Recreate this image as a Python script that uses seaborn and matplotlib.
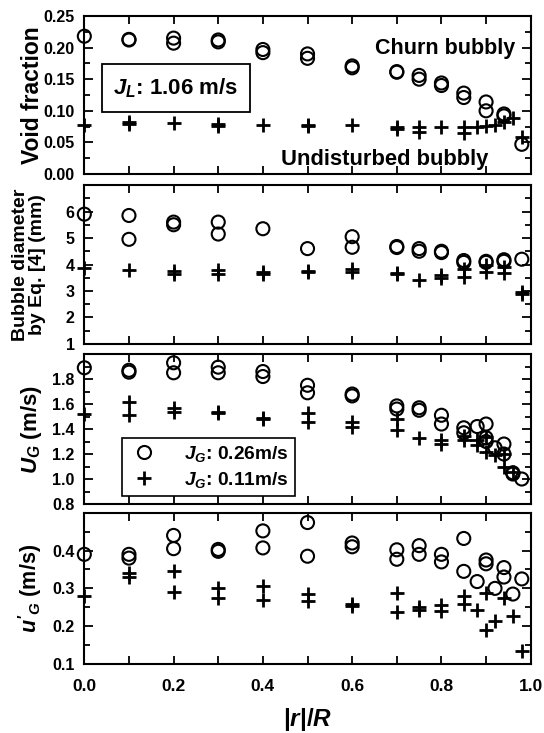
import numpy as np
import pandas as pd
import matplotlib
matplotlib.use("Agg")
import matplotlib.pyplot as plt
import seaborn as sns
from matplotlib.lines import Line2D
from matplotlib.patches import Rectangle
from matplotlib.ticker import MultipleLocator, FormatStrFormatter

# ---- radial profiles, J_L = 1.06 m/s ----
# void fraction
r_void_hi = [0, 0.1, 0.1, 0.2, 0.2, 0.3, 0.3, 0.4, 0.4, 0.5, 0.5, 0.6, 0.6, 0.7, 0.7,
             0.75, 0.75, 0.8, 0.8, 0.85, 0.85, 0.9, 0.9, 0.94, 0.94, 0.98]
void_hi = [0.218, 0.213, 0.212, 0.215, 0.207, 0.212, 0.209, 0.197, 0.192, 0.190, 0.183,
           0.171, 0.168, 0.162, 0.161, 0.156, 0.150, 0.144, 0.140, 0.128, 0.121,
           0.114, 0.100, 0.095, 0.092, 0.047]
r_void_lo = [0, 0.1, 0.1, 0.2, 0.3, 0.3, 0.4, 0.5, 0.5, 0.6, 0.7, 0.7, 0.75, 0.75, 0.8,
             0.85, 0.85, 0.88, 0.9, 0.92, 0.94, 0.96, 0.98]
void_lo = [0.078, 0.083, 0.079, 0.080, 0.079, 0.076, 0.078, 0.078, 0.076, 0.078, 0.075,
           0.072, 0.075, 0.067, 0.075, 0.074, 0.065, 0.075, 0.076, 0.077, 0.083, 0.088,
           0.058]

# bubble diameter (mm)
r_db_hi = [0, 0.1, 0.1, 0.2, 0.2, 0.3, 0.3, 0.4, 0.5, 0.6, 0.6, 0.7, 0.7, 0.75, 0.75,
           0.8, 0.8, 0.85, 0.85, 0.9, 0.9, 0.94, 0.94, 0.98]
db_hi = [5.9, 5.85, 4.95, 5.6, 5.5, 5.6, 5.15, 5.35, 4.6, 5.05, 4.65, 4.68, 4.64, 4.6,
         4.5, 4.5, 4.45, 4.15, 4.08, 4.12, 4.08, 4.18, 4.12, 4.2]
r_db_lo = [0, 0.1, 0.2, 0.2, 0.3, 0.3, 0.4, 0.4, 0.5, 0.5, 0.6, 0.6, 0.7, 0.7, 0.75,
           0.8, 0.8, 0.85, 0.85, 0.9, 0.9, 0.94, 0.94, 0.98, 0.98]
db_lo = [3.85, 3.78, 3.75, 3.65, 3.78, 3.65, 3.72, 3.65, 3.75, 3.7, 3.82, 3.72, 3.68,
         3.65, 3.42, 3.62, 3.48, 3.82, 3.52, 3.98, 3.7, 3.9, 3.68, 2.95, 2.88]

# mean gas velocity U_G (m/s)
r_ug_hi = [0, 0.1, 0.1, 0.2, 0.2, 0.3, 0.3, 0.4, 0.4, 0.5, 0.5, 0.6, 0.6, 0.7, 0.7,
           0.75, 0.75, 0.8, 0.8, 0.85, 0.85, 0.88, 0.9, 0.9, 0.9, 0.92, 0.94, 0.94,
           0.96, 0.96, 0.98]
ug_hi = [1.89, 1.87, 1.855, 1.93, 1.85, 1.895, 1.85, 1.86, 1.82, 1.75, 1.69, 1.68,
         1.665, 1.585, 1.56, 1.57, 1.55, 1.51, 1.44, 1.41, 1.37, 1.42, 1.44, 1.33,
         1.30, 1.25, 1.28, 1.20, 1.05, 1.04, 1.00]
r_ug_lo = [0, 0.1, 0.1, 0.2, 0.2, 0.3, 0.3, 0.4, 0.4, 0.5, 0.5, 0.6, 0.6, 0.7, 0.7,
           0.75, 0.8, 0.8, 0.85, 0.85, 0.88, 0.88, 0.9, 0.9, 0.92, 0.94, 0.94, 0.96]
ug_lo = [1.52, 1.62, 1.51, 1.565, 1.54, 1.54, 1.53, 1.49, 1.48, 1.53, 1.46, 1.46, 1.42,
         1.48, 1.39, 1.33, 1.31, 1.28, 1.345, 1.31, 1.31, 1.27, 1.34, 1.22, 1.19, 1.2,
         1.1, 1.06]

# gas velocity fluctuation u'_G (m/s)
r_uf_hi = [0, 0.1, 0.1, 0.2, 0.2, 0.3, 0.3, 0.4, 0.4, 0.5, 0.5, 0.6, 0.6, 0.7, 0.7,
           0.75, 0.75, 0.8, 0.8, 0.85, 0.85, 0.88, 0.9, 0.9, 0.92, 0.94, 0.94, 0.96, 0.98]
uf_hi = [0.39, 0.39, 0.38, 0.44, 0.405, 0.403, 0.398, 0.452, 0.407, 0.474, 0.385, 0.42,
         0.41, 0.402, 0.377, 0.413, 0.39, 0.39, 0.37, 0.432, 0.345, 0.318, 0.375, 0.365,
         0.30, 0.355, 0.33, 0.285, 0.325]
r_uf_lo = [0, 0.1, 0.1, 0.2, 0.2, 0.3, 0.3, 0.4, 0.4, 0.5, 0.5, 0.6, 0.6, 0.7, 0.7,
           0.75, 0.75, 0.8, 0.8, 0.85, 0.85, 0.88, 0.9, 0.9, 0.92, 0.94, 0.96, 0.98]
uf_lo = [0.28, 0.34, 0.33, 0.345, 0.29, 0.30, 0.275, 0.305, 0.268, 0.286, 0.266, 0.258,
         0.253, 0.287, 0.238, 0.25, 0.243, 0.255, 0.24, 0.28, 0.258, 0.242, 0.287, 0.19,
         0.215, 0.275, 0.228, 0.135]

series_labels = [r"$J_G$: 0.26m/s", r"$J_G$: 0.11m/s"]
x_ticks = [0.0, 0.2, 0.4, 0.6, 0.8, 1.0]

sns.set_style("ticks")
plt.rcParams.update({
    "font.family": ["Liberation Sans", "DejaVu Sans"],
    "font.weight": "bold",
    "axes.labelweight": "bold",
    "mathtext.fontset": "custom",
    "mathtext.rm": "Liberation Sans:bold",
    "mathtext.it": "Liberation Sans:italic:bold",
    "mathtext.bf": "Liberation Sans:bold",
    "axes.linewidth": 1.5,
    "axes.edgecolor": "black",
    "xtick.color": "black",
    "ytick.color": "black",
    "text.color": "black",
    "axes.labelcolor": "black",
})

fig = plt.figure(figsize=(5.44, 7.33), dpi=100)
left, width = 0.155, 0.8206
ax1 = fig.add_axes([left, 0.7626, width, 0.2156])
ax2 = fig.add_axes([left, 0.5307, width, 0.2169])
ax3 = fig.add_axes([left, 0.3124, width, 0.2046])
ax4 = fig.add_axes([left, 0.0941, width, 0.2064])

panels = [
    (ax1, r_void_hi, void_hi, r_void_lo, void_lo, (0.0, 0.25), 0.05, 0.025, "%.2f"),
    (ax2, r_db_hi, db_hi, r_db_lo, db_lo, (1.0, 7.0), 1.0, 0.5, "%d"),
    (ax3, r_ug_hi, ug_hi, r_ug_lo, ug_lo, (0.8, 2.0), 0.2, 0.1, "%.1f"),
    (ax4, r_uf_hi, uf_hi, r_uf_lo, uf_lo, (0.1, 0.5), 0.1, 0.05, "%.1f"),
]

for ax, rh, vh, rl, vl, ylim, ymaj, ymin, fmt in panels:
    sns.scatterplot(x=rl, y=vl, ax=ax, marker="+", color="black", s=110,
                    linewidth=2.0, clip_on=False, zorder=3)
    sns.scatterplot(x=rh, y=vh, ax=ax, marker="o", color="black", facecolor="none",
                    edgecolor="black", s=88, linewidth=1.5, clip_on=False, zorder=4)
    ax.set_xlim(0, 1)
    ax.set_ylim(*ylim)
    ax.xaxis.set_major_locator(MultipleLocator(0.2))
    ax.xaxis.set_minor_locator(MultipleLocator(0.1))
    ticks = np.arange(ylim[0], ylim[1] - ymaj * 0.5, ymaj)
    if ax is ax1:
        ticks = np.arange(ylim[0], ylim[1] + ymaj * 0.5, ymaj)
    ax.set_yticks(ticks)
    ax.yaxis.set_minor_locator(MultipleLocator(ymin))
    ax.yaxis.set_major_formatter(FormatStrFormatter(fmt))
    ax.tick_params(which="both", direction="in", top=True, right=True, width=1.3)
    ax.tick_params(axis="x", which="both", length=6)
    ax.tick_params(axis="y", which="major", length=6.5, labelsize=11.5, pad=7)
    ax.tick_params(axis="y", which="minor", length=4)
    for s in ax.spines.values():
        s.set_linewidth(1.5)
    if ax is not ax4:
        ax.set_xticklabels([])
    ax.set_xlabel("")

ax4.set_xticks(x_ticks)
ax4.xaxis.set_major_formatter(FormatStrFormatter("%.1f"))
ax4.tick_params(axis="x", labelsize=12.5, pad=11)

ax1.set_ylabel("Void fraction", fontsize=16.5)
ax2.set_ylabel("Bubble diameter\nby Eq. [4] (mm)", fontsize=14, linespacing=1.05)
ax3.set_ylabel(r"$U_G$ (m/s)", fontsize=16)
ax4.set_ylabel(r"$u'_G$ (m/s)", fontsize=15.5)
ax4.set_xlabel(r"$|r|/R$", fontsize=17.5)
ax1.yaxis.set_label_coords(-0.09, 0.5)
ax2.yaxis.set_label_coords(-0.085, 0.5)
ax3.yaxis.set_label_coords(-0.09, 0.5)
ax4.yaxis.set_label_coords(-0.09, 0.5)
ax4.xaxis.set_label_coords(0.5, -0.275)

# annotations in the void fraction panel
ax1.text(0.808, 0.794, "Churn bubbly", transform=ax1.transAxes, fontsize=15.5,
         ha="center", va="center", fontweight="bold")
ax1.text(0.6725, 0.089, "Undisturbed bubbly", transform=ax1.transAxes, fontsize=15.8,
         ha="center", va="center", fontweight="bold")
ax1.add_patch(Rectangle((0.039, 0.392), 0.333, 0.304, transform=ax1.transAxes,
                        fill=False, edgecolor="black", linewidth=1.3, zorder=2))
ax1.text(0.205, 0.544, r"$J_L$: 1.06 m/s", transform=ax1.transAxes, fontsize=16,
         ha="center", va="center", fontweight="bold")

# legend in the U_G panel
handles = [
    Line2D([], [], marker="o", ls="none", mfc="none", mec="black", ms=9.4, mew=1.5),
    Line2D([], [], marker="+", ls="none", color="black", ms=10.5, mew=2.0),
]
leg = ax3.legend(handles, series_labels, loc="lower left",
                 bbox_to_anchor=(0.0845, 0.053), borderaxespad=0, fontsize=13.8,
                 frameon=True, fancybox=False, framealpha=1, edgecolor="black",
                 handletextpad=1.2, borderpad=0.32, labelspacing=0.3,
                 handlelength=1.7)
leg.get_frame().set_linewidth(1.2)

fig.savefig("out.png", dpi=100)
